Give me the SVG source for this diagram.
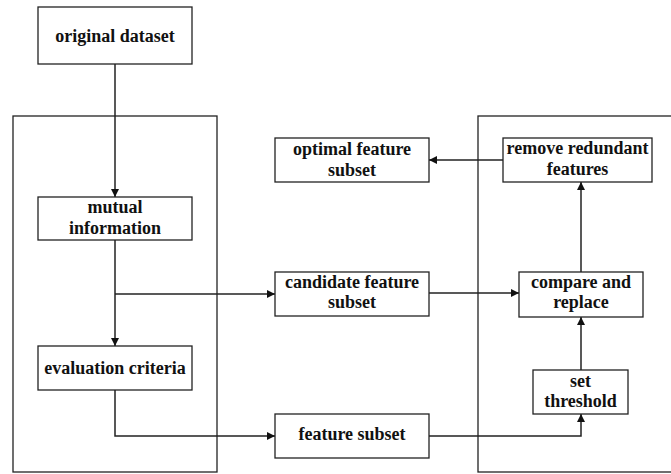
<svg xmlns="http://www.w3.org/2000/svg" width="671" height="474" viewBox="0 0 671 474">
<defs>
<style>
.box{fill:#fff;stroke:#222;stroke-width:1.3}
.frame{fill:none;stroke:#222;stroke-width:1.3}
.t{font-family:'Liberation Serif','DejaVu Serif',serif;font-weight:bold;font-size:18px;fill:#111;text-anchor:middle}
.c{fill:none;stroke:#222;stroke-width:1.5}
</style>
<marker id="ah" viewBox="0 0 10 10" refX="10" refY="5" markerWidth="8" markerHeight="8" markerUnits="userSpaceOnUse" orient="auto">
<path d="M0,0 L10,5 L0,10 z" fill="#111"/>
</marker>
</defs>
<rect fill="#fff" width="671" height="474"/>
<g id="frames">
<rect class="frame" x="13" y="116" width="204" height="356"/>
<rect class="frame" x="478" y="116" width="200" height="356"/>
</g>
<g id="connectors">
<path class="c" d="M115,64 V197" marker-end="url(#ah)"/>
<path class="c" d="M115,240 V346" marker-end="url(#ah)"/>
<path class="c" d="M115,294 H275" marker-end="url(#ah)"/>
<path class="c" d="M115,390 V436 H275" marker-end="url(#ah)"/>
<path class="c" d="M429,293 H519" marker-end="url(#ah)"/>
<path class="c" d="M429,436 H581 V414" marker-end="url(#ah)"/>
<path class="c" d="M581,370 V317" marker-end="url(#ah)"/>
<path class="c" d="M581,272 V182" marker-end="url(#ah)"/>
<path class="c" d="M503,160 H429" marker-end="url(#ah)"/>
</g>
<g id="original-dataset">
<rect class="box" x="38" y="7" width="154" height="57"/>
<text class="t" x="115" y="42" font-family="Liberation Serif, serif">original dataset</text>
</g>
<g id="mutual-information">
<rect class="box" x="38" y="197" width="154" height="43"/>
<text class="t" x="115" y="213">mutual</text>
<text class="t" x="115" y="234">information</text>
</g>
<g id="evaluation-criteria">
<rect class="box" x="38" y="346" width="154" height="44"/>
<text class="t" x="115" y="374">evaluation criteria</text>
</g>
<g id="optimal-feature-subset">
<rect class="box" x="275" y="138" width="154" height="44"/>
<text class="t" x="352" y="155">optimal feature</text>
<text class="t" x="352" y="176">subset</text>
</g>
<g id="candidate-feature-subset">
<rect class="box" x="275" y="272" width="154" height="44"/>
<text class="t" x="352" y="288">candidate feature</text>
<text class="t" x="352" y="308">subset</text>
</g>
<g id="feature-subset">
<rect class="box" x="275" y="414" width="154" height="44"/>
<text class="t" x="352" y="440">feature subset</text>
</g>
<g id="remove-redundant-features">
<rect class="box" x="503" y="138" width="149" height="44"/>
<text class="t" x="577.5" y="154">remove redundant</text>
<text class="t" x="577.5" y="175">features</text>
</g>
<g id="compare-and-replace">
<rect class="box" x="519" y="272" width="124" height="45"/>
<text class="t" x="581" y="288">compare and</text>
<text class="t" x="581" y="308">replace</text>
</g>
<g id="set-threshold">
<rect class="box" x="533" y="370" width="95" height="44"/>
<text class="t" x="580.5" y="387">set</text>
<text class="t" x="580.5" y="407">threshold</text>
</g>
</svg>
